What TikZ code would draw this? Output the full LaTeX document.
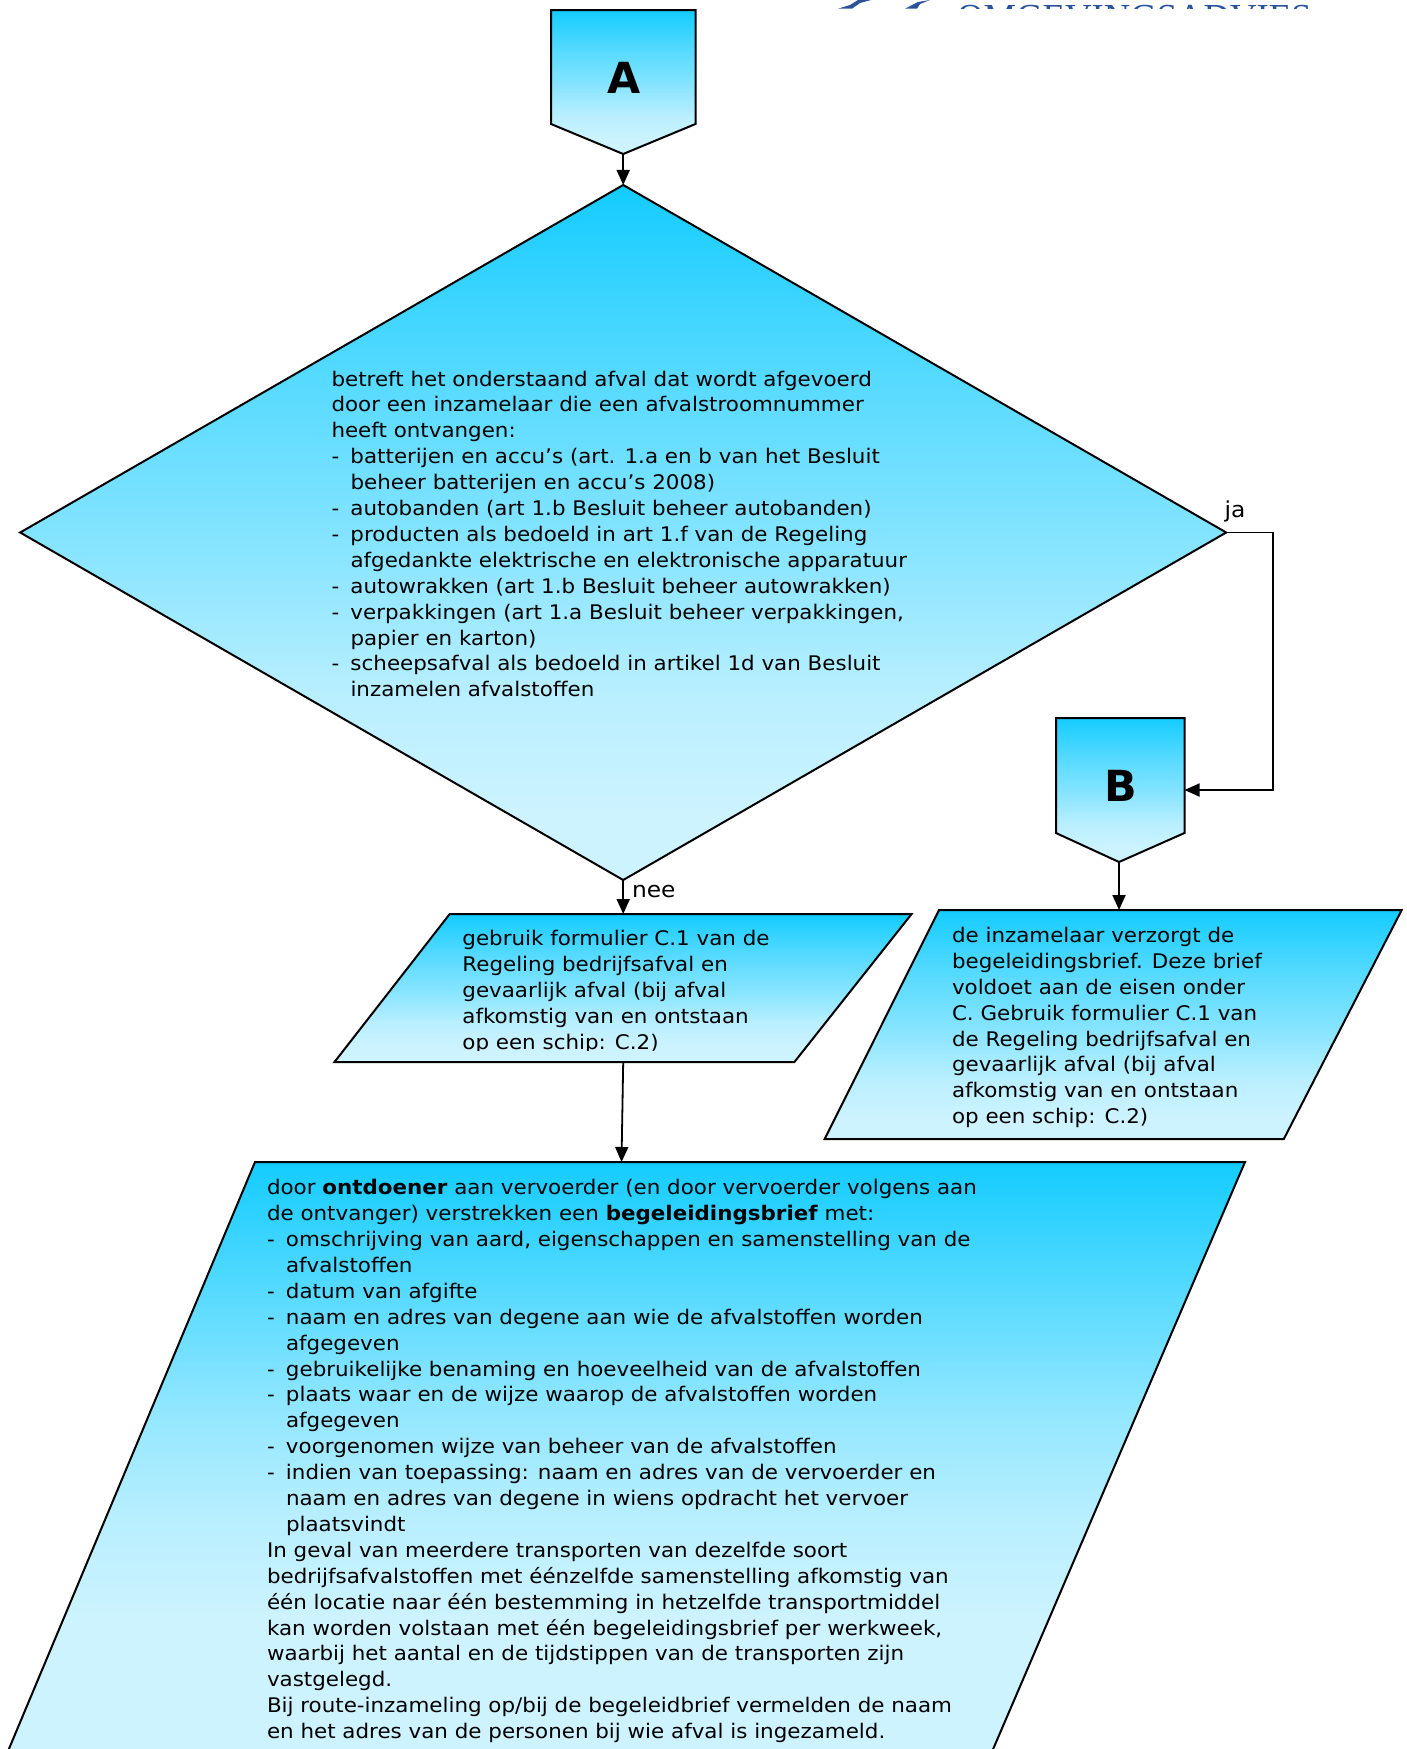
\documentclass[tikz,border=0pt]{standalone}
\usepackage{fontspec}
\setmainfont[FakeStretch=1.064]{DejaVu Sans}
\newfontfamily\letterfont{DejaVu Sans}
\newfontfamily\logofont{Liberation Serif}
\usetikzlibrary{arrows.meta,shapes.geometric}
\definecolor{gradtop}{RGB}{20,204,255}
\definecolor{gradbot}{RGB}{204,243,255}
\definecolor{logoblue}{RGB}{43,82,155}
\colorlet{gsA}{gradbot!35!gradtop}
\colorlet{gsB}{gradbot!60!gradtop}
\colorlet{gsC}{gradbot!90!gradtop}
\colorlet{glA}{gradbot!34!gradtop}
\colorlet{glB}{gradbot!68!gradtop}
\colorlet{glC}{gradbot!89!gradtop}
\pgfdeclareverticalshading{flowgrad}{100bp}{color(0bp)=(gradbot); color(30bp)=(gradbot); color(38bp)=(gsC); color(50bp)=(gsB); color(61.5bp)=(gsA); color(75bp)=(gradtop); color(100bp)=(gradtop)}
\pgfdeclareverticalshading{longgrad}{100bp}{color(0bp)=(gradbot); color(38bp)=(gradbot); color(46bp)=(glC); color(55bp)=(glB); color(65bp)=(glA); color(75bp)=(gradtop); color(100bp)=(gradtop)}
\newcommand{\firstl}{\rule{0pt}{18bp}}
\newcommand{\itm}[1]{\makebox[19bp][l]{-}#1}
\newcommand{\cnt}[1]{\hspace*{19bp}#1}
\tikzset{
  x=1bp,y=-1bp,
  flowline/.style={draw=black,line width=2bp,line join=miter},
  flowshape/.style={flowline,shading=flowgrad},
  longshape/.style={flowline,shading=longgrad},
  flowtext/.style={anchor=north west,inner sep=0pt,outer sep=0pt,align=left,text=black,
    font=\fontsize{20.2}{26.0}\selectfont},
  lettertext/.style={inner sep=0pt,outer sep=0pt,font=\letterfont\fontsize{43}{50}\selectfont\bfseries},
  edgelabel/.style={anchor=base west,inner sep=0pt,outer sep=0pt,font=\fontsize{22}{26}\selectfont},
  link/.style={draw=black,line width=1.8bp,-{Triangle[length=15bp,width=13bp]}}
}
\begin{document}
\begin{tikzpicture}
\path[use as bounding box] (0,0) rectangle (1407,1749);
\clip (0,0) rectangle (1407,1749);
\fill[white] (0,0) rectangle (1407,1749);

% cropped logo
\begin{scope}
\clip (800,0) rectangle (1400,8.7);
\fill[logoblue] (838,8.7) -- (850,5) -- (858,0) -- (871,0) -- (860,3) -- (852,8.7) -- cycle;
\fill[logoblue] (905,8.7) -- (918,2) -- (930,0) -- (920,4) -- (917,8.7) -- cycle;
\node[anchor=base west,inner sep=0pt,text=logoblue,font=\logofont\fontsize{36.8}{40}\selectfont] (logo) at (957,29) {OMGEVINGSADVIES};
\end{scope}

% A
\coordinate (Atip) at (623.2,154);
\path[flowshape] (551,10) -- (695.5,10) -- (695.5,124) -- (Atip) -- (551,124) -- cycle;
\node[lettertext] (Alabel) at (624,78) {A};

% decision
\node[diamond,flowshape,minimum width=1206bp,minimum height=695bp,inner sep=0pt,outer sep=0pt] (dec) at (623.2,532.5) {};
\node[flowtext] (dectext) at (331.5,368) {\firstl betreft het onderstaand afval dat wordt afgevoerd\\
door een inzamelaar die een afvalstroomnummer\\
heeft ontvangen:\\
\itm{batterijen en accu’s (art. 1.a en b van het Besluit}\\
\cnt{beheer batterijen en accu’s 2008)}\\
\itm{autobanden (art 1.b Besluit beheer autobanden)}\\
\itm{producten als bedoeld in art 1.f van de Regeling}\\
\cnt{afgedankte elektrische en elektronische apparatuur}\\
\itm{autowrakken (art 1.b Besluit beheer autowrakken)}\\
\itm{verpakkingen (art 1.a Besluit beheer verpakkingen,}\\
\cnt{papier en karton)}\\
\itm{scheepsafval als bedoeld in artikel 1d van Besluit}\\
\cnt{inzamelen afvalstoffen}};

% B
\coordinate (Btip) at (1119,862);
\coordinate (Bright) at (1184.5,790);
\path[flowshape] (1056,718) -- (1184.5,718) -- (Bright) -- (1184.5,833) -- (Btip) -- (1056,833) -- cycle;
\node[lettertext] (Blabel) at (1121,786) {B};

% parallelogram C.1
\coordinate (ptop) at (623.2,914);
\coordinate (pbot) at (623.2,1062);
\path[flowshape] (449.7,914) -- (911.6,914) -- (794.4,1062) -- (334.5,1062) -- cycle;
\begin{scope}
\clip (440,914) rectangle (800,1050.7);
\node[flowtext] (ptext) at (462.4,927.6) {\firstl gebruik formulier C.1 van de\\
Regeling bedrijfsafval en\\
gevaarlijk afval (bij afval\\
afkomstig van en ontstaan\\
op een schip: C.2)};
\end{scope}

% parallelogram inzamelaar
\coordinate (qtop) at (1119,910);
\path[flowshape] (939,910) -- (1401.7,910) -- (1283.8,1139) -- (824.7,1139) -- cycle;
\node[flowtext] (qtext) at (952,924.4) {\firstl de inzamelaar verzorgt de\\
begeleidingsbrief. Deze brief\\
voldoet aan de eisen onder\\
C. Gebruik formulier C.1 van\\
de Regeling bedrijfsafval en\\
gevaarlijk afval (bij afval\\
afkomstig van en ontstaan\\
op een schip: C.2)};

% large parallelogram
\coordinate (rtop) at (621.5,1162);
\path[longshape] (255,1162) -- (1245,1162) -- (982,1775) -- (-2,1775) -- cycle;
\node[flowtext] (rtext) at (267,1176.7) {\firstl door \textbf{ontdoener} aan vervoerder (en door vervoerder volgens aan\\
de ontvanger) verstrekken een \textbf{begeleidingsbrief} met:\\
\itm{omschrijving van aard, eigenschappen en samenstelling van de}\\
\cnt{afvalstoffen}\\
\itm{datum van afgifte}\\
\itm{naam en adres van degene aan wie de afvalstoffen worden}\\
\cnt{afgegeven}\\
\itm{gebruikelijke benaming en hoeveelheid van de afvalstoffen}\\
\itm{plaats waar en de wijze waarop de afvalstoffen worden}\\
\cnt{afgegeven}\\
\itm{voorgenomen wijze van beheer van de afvalstoffen}\\
\itm{indien van toepassing: naam en adres van de vervoerder en}\\
\cnt{naam en adres van degene in wiens opdracht het vervoer}\\
\cnt{plaatsvindt}\\
In geval van meerdere transporten van dezelfde soort\\
bedrijfsafvalstoffen met éénzelfde samenstelling afkomstig van\\
één locatie naar één bestemming in hetzelfde transportmiddel\\
kan worden volstaan met één begeleidingsbrief per werkweek,\\
waarbij het aantal en de tijdstippen van de transporten zijn\\
vastgelegd.\\
Bij route-inzameling op/bij de begeleidbrief vermelden de naam\\
en het adres van de personen bij wie afval is ingezameld.};

% connectors
\draw[link] (Atip) -- (dec.north);
\draw[link] (dec.south) -- (ptop);
\draw[link] (pbot) -- (rtop);
\draw[link] (Btip) -- (qtop);
\coordinate (jabend) at (1273,532.5);
\coordinate (jadown) at (1273,790);
\draw[link] (dec.east) -- (jabend) -- (jadown) -- (Bright);
\node[edgelabel] (ja) at (1224.7,517) {ja};
\node[edgelabel] (nee) at (632,897) {nee};
\end{tikzpicture}
\end{document}
